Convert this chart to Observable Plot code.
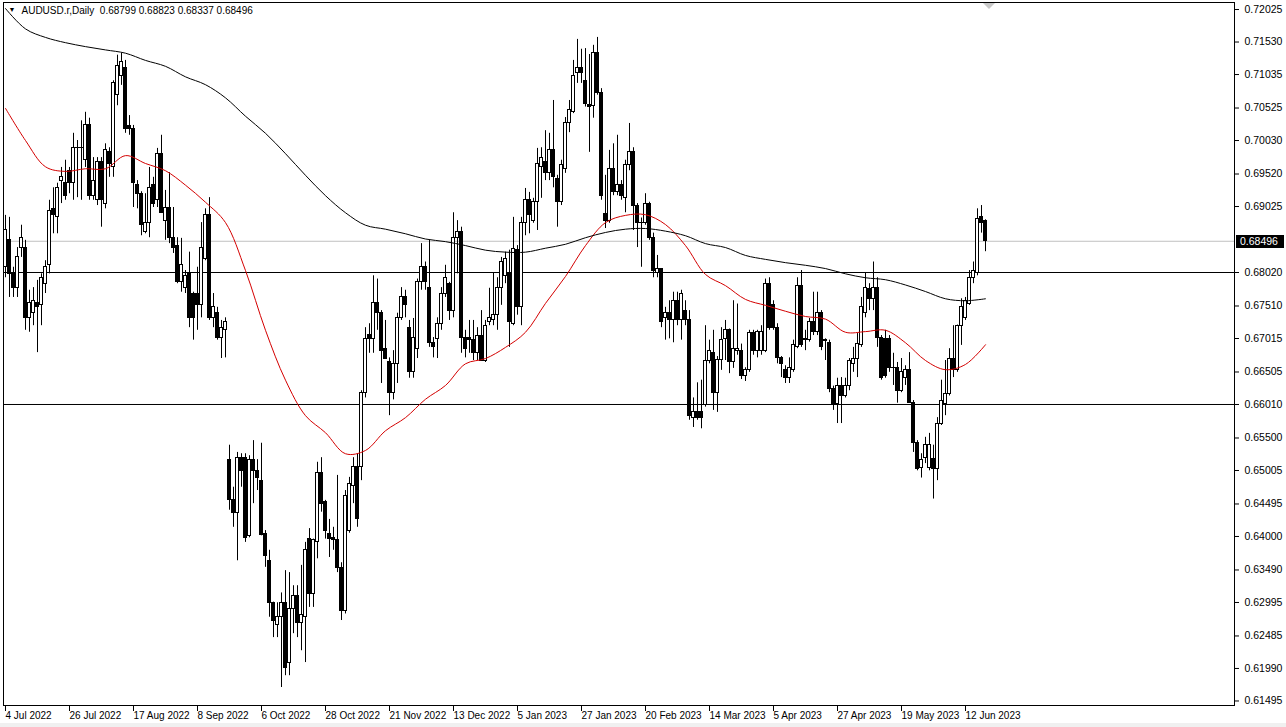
<!DOCTYPE html>
<html><head><meta charset="utf-8">
<script src="https://cdn.jsdelivr.net/npm/d3@7"></script>
<script src="https://cdn.jsdelivr.net/npm/@observablehq/plot@0.6"></script>
<style>
html,body{margin:0;padding:0;background:#fff;overflow:hidden;}
#chart{position:absolute;left:0;top:0;}
svg{font-family:"Liberation Sans",Arial,sans-serif;}
</style></head><body><div id="chart"></div>
<script>
const symbolTitle = "AUDUSD.r,Daily";
const lastOHLC = "0.68799 0.68823 0.68337 0.68496";
const lastPrice = 0.68496;
const levels = [0.6802, 0.6601];

const opens = [.6810,.6851,.6800,.6779,.6839,.6840,.6732,.6740,.6756,.6752,.6785,.6813,.6898,.6886,.6942,.6938,.6957,.6938,.6991,.6992,
.6973,.7026,.6919,.6912,.6970,.6907,.6985,.6962,.7072,.7102,.7113,.7025,.7020,.6935,.6921,.6863,.6877,.6935,.6912,.6983,
.6881,.6901,.6854,.6843,.6787,.6779,.6800,.6770,.6770,.6752,.6823,.6889,.6732,.6740,.6703,.6714,.6516,.6455,.6435,.6520,
.6520,.6401,.6516,.6500,.6485,.6404,.6363,.6299,.6265,.6277,.6299,.6207,.6290,.6310,.6269,.6277,.6396,.6313,.6391,.6496,
.6452,.6404,.6398,.6394,.6352,.6287,.6409,.6477,.6506,.6506,.6619,.6707,.6701,.6756,.6741,.6685,.6666,.6618,.6662,.6733,
.6764,.6718,.6650,.6686,.6787,.6810,.6779,.6695,.6701,.6724,.6770,.6785,.6744,.6854,.6863,.6703,.6703,.6699,.6679,.6706,
.6668,.6726,.6729,.6737,.6779,.6797,.6802,.6724,.6836,.6749,.6877,.6912,.6881,.6909,.6962,.6970,.6954,.6988,.6945,.6909,
.6960,.7030,.7046,.7106,.7114,.7094,.7057,.7056,.7137,.7076,.6891,.6881,.6960,.6924,.6935,.6915,.6965,.6985,.6904,.6878,
.6877,.6907,.6855,.6802,.6807,.6732,.6740,.6729,.6759,.6729,.6744,.6729,.6581,.6589,.6589,.6600,.6668,.6680,.6619,.6669,
.6701,.6714,.6665,.6683,.6683,.6645,.6653,.6710,.6683,.6683,.6683,.6785,.6752,.6718,.6672,.6653,.6641,.6653,.6688,.6782,
.6701,.6699,.6726,.6711,.6741,.6699,.6695,.6625,.6602,.6629,.6614,.6629,.6663,.6671,.6691,.6741,.6777,.6762,.6779,.6703,
.6701,.6701,.6656,.6657,.6622,.6642,.6653,.6604,.6543,.6505,.6520,.6505,.6518,.6503,.6572,.6602,.6617,.6671,.6653,.6721,
.6732,.6754,.6794,.6802,.6886,.68799];
const highs = [.6889,.6886,.6810,.6840,.6874,.6851,.6775,.6779,.6790,.6800,.6820,.6912,.6931,.6938,.6962,.6973,.6962,.7014,.7003,.7033,
.7046,.7037,.6977,.6977,.6977,.6998,.6992,.7094,.7133,.7136,.7125,.7041,.7026,.6942,.6925,.6922,.6962,.6947,.6991,.7011,
.6927,.6954,.6901,.6855,.6854,.6805,.6833,.6772,.6810,.6878,.6899,.6916,.6770,.6749,.6729,.6733,.6539,.6475,.6528,.6526,
.6526,.6523,.6546,.6517,.6542,.6409,.6379,.6300,.6299,.6314,.6348,.6345,.6325,.6325,.6356,.6391,.6412,.6396,.6513,.6520,
.6455,.6426,.6414,.6493,.6360,.6470,.6490,.6520,.6526,.6622,.6718,.6724,.6797,.6792,.6744,.6729,.6672,.6683,.6740,.6779,
.6775,.6729,.6732,.6792,.6846,.6818,.6851,.6703,.6733,.6779,.6813,.6787,.6893,.6881,.6871,.6714,.6729,.6729,.6718,.6744,
.6729,.6778,.6802,.6794,.6825,.6833,.6836,.6886,.6843,.6886,.6930,.6924,.6915,.6991,.6992,.7018,.7014,.7064,.6950,.6973,
.7038,.7064,.7125,.7157,.7142,.7143,.7134,.7148,.7160,.7082,.6950,.6988,.6998,.7011,.6942,.6973,.7029,.6992,.6907,.6885,
.6922,.6909,.6862,.6828,.6808,.6749,.6759,.6772,.6772,.6775,.6759,.6744,.6611,.6634,.6638,.6721,.6699,.6714,.6674,.6718,
.6729,.6716,.6759,.6754,.6693,.6657,.6714,.6714,.6714,.6721,.6792,.6794,.6759,.6724,.6674,.6660,.6672,.6699,.6794,.6805,
.6714,.6732,.6772,.6772,.6744,.6701,.6699,.6629,.6641,.6642,.6641,.6671,.6688,.6709,.6764,.6802,.6785,.6818,.6794,.6706,
.6714,.6706,.6679,.6665,.6671,.6660,.6680,.6607,.6546,.6526,.6551,.6557,.6539,.6581,.6638,.6668,.6686,.6721,.6722,.6762,
.6764,.6805,.6818,.6899,.6904,.68823];
const lows = [.6794,.6764,.6764,.6764,.6825,.6714,.6711,.6721,.6680,.6721,.6770,.6800,.6861,.6861,.6907,.6912,.6922,.6912,.6916,.6912,
.6962,.6912,.6912,.6904,.6871,.6899,.6947,.6947,.7056,.7087,.7014,.7011,.6901,.6899,.6858,.6861,.6855,.6901,.6901,.6892,
.6851,.6846,.6831,.6785,.6772,.6770,.6718,.6699,.6714,.6733,.6820,.6729,.6718,.6699,.6671,.6672,.6440,.6414,.6363,.6475,
.6391,.6398,.6450,.6470,.6401,.6353,.6277,.6246,.6246,.6170,.6188,.6188,.6252,.6246,.6226,.6208,.6292,.6292,.6366,.6437,
.6396,.6368,.6379,.6345,.6272,.6282,.6405,.6450,.6414,.6485,.6611,.6679,.6679,.6714,.6633,.6674,.6584,.6608,.6633,.6729,
.6733,.6641,.6641,.6671,.6775,.6775,.6688,.6672,.6671,.6714,.6764,.6729,.6733,.6800,.6679,.6672,.6679,.6668,.6668,.6668,
.6665,.6721,.6721,.6714,.6752,.6785,.6688,.6721,.6737,.6721,.6858,.6861,.6877,.6866,.6915,.6942,.6942,.6931,.6871,.6904,
.6953,.7015,.7044,.7090,.7090,.7054,.6985,.7037,.7072,.6912,.6869,.6877,.6919,.6919,.6912,.6893,.6957,.6866,.6840,.6810,
.6874,.6851,.6794,.6794,.6718,.6699,.6701,.6695,.6721,.6699,.6721,.6577,.6566,.6577,.6564,.6597,.6663,.6592,.6589,.6653,
.6668,.6648,.6656,.6676,.6639,.6636,.6650,.6676,.6672,.6676,.6680,.6714,.6714,.6663,.6642,.6633,.6633,.6650,.6686,.6688,
.6683,.6696,.6706,.6706,.6683,.6668,.6619,.6592,.6572,.6572,.6611,.6622,.6650,.6642,.6688,.6733,.6744,.6744,.6688,.6638,
.6641,.6650,.6630,.6603,.6619,.6630,.6607,.6528,.6500,.6489,.6511,.6500,.6457,.6485,.6569,.6584,.6614,.6642,.6650,.6691,
.6729,.6752,.6785,.6797,.6862,.68337];
const closes = [.6866,.6800,.6779,.6825,.6855,.6733,.6756,.6759,.6749,.6794,.6810,.6896,.6889,.6931,.6947,.6919,.6938,.6992,.6992,.6991,
.7026,.6919,.6942,.6970,.6912,.6988,.6968,.7090,.7117,.7122,.7021,.7021,.6938,.6922,.6874,.6877,.6930,.6907,.6983,.6893,
.6901,.6854,.6840,.6787,.6813,.6797,.6733,.6733,.6752,.6840,.6889,.6732,.6749,.6703,.6718,.6726,.6455,.6435,.6520,.6500,
.6398,.6516,.6500,.6489,.6403,.6371,.6299,.6272,.6277,.6299,.6199,.6290,.6310,.6269,.6280,.6379,.6313,.6394,.6497,.6450,
.6409,.6396,.6394,.6352,.6287,.6462,.6480,.6506,.6426,.6618,.6701,.6701,.6756,.6740,.6683,.6671,.6618,.6662,.6733,.6764,
.6752,.6650,.6703,.6787,.6810,.6787,.6695,.6688,.6724,.6770,.6794,.6744,.6855,.6863,.6703,.6686,.6699,.6679,.6706,.6668,
.6721,.6732,.6737,.6778,.6818,.6822,.6726,.6838,.6749,.6877,.6912,.6889,.6909,.6968,.6976,.6954,.6988,.6947,.6909,.6965,
.7030,.7049,.7102,.7114,.7106,.7058,.7054,.7137,.7076,.6919,.6881,.6960,.6924,.6935,.6919,.6965,.6985,.6904,.6878,.6877,
.6907,.6855,.6805,.6807,.6726,.6740,.6729,.6759,.6729,.6770,.6729,.6584,.6589,.6581,.6581,.6668,.6683,.6619,.6669,.6699,
.6714,.6665,.6686,.6686,.6645,.6653,.6710,.6683,.6711,.6711,.6785,.6718,.6718,.6672,.6663,.6641,.6656,.6691,.6782,.6691,
.6699,.6726,.6711,.6741,.6688,.6698,.6625,.6602,.6629,.6614,.6629,.6668,.6671,.6693,.6749,.6779,.6762,.6779,.6703,.6642,
.6645,.6656,.6657,.6622,.6650,.6653,.6604,.6543,.6503,.6516,.6539,.6539,.6503,.6572,.6607,.6617,.6671,.6653,.6721,.6749,
.6759,.6794,.6805,.6884,.6877,.68496];

const maBars = [0,5,10,15,20,25,30,35,40,45,50,55,60,65,70,75,80,85,90,95,100,105,110,115,120,125,130,135,140,145,150,155,160,165,170,175,180,185,190,195,200,205,210,215,220,225,230,235,240,245];
const ma50 = [.7052,.7003,.6963,.6956,.6960,.6960,.6980,.6968,.6957,.6935,.6909,.6878,.6805,.6714,.6638,.6584,.6558,.6526,.6531,.6561,
.6581,.6609,.6630,.6663,.6671,.6688,.6711,.6755,.6796,.6843,.6878,.6889,.6890,.6875,.6843,.6799,.6782,.6761,.6752,.6743,
.6735,.6731,.6711,.6712,.6714,.6695,.6668,.6654,.6662,.6692];
const ma200 = [.7204,.7173,.7160,.7152,.7146,.7141,.7136,.7125,.7116,.7100,.7088,.7068,.7040,.7014,.6983,.6950,.6919,.6893,.6874,.6868,
.6861,.6853,.6849,.6843,.6836,.6833,.6833,.6839,.6845,.6855,.6863,.6868,.6869,.6865,.6858,.6846,.6840,.6828,.6822,.6817,
.6813,.6808,.6800,.6794,.6791,.6783,.6773,.6762,.6759,.6762];

const dateLabels = ["4 Jul 2022","26 Jul 2022","17 Aug 2022","8 Sep 2022","6 Oct 2022","28 Oct 2022","21 Nov 2022","13 Dec 2022","5 Jan 2023","27 Jan 2023","20 Feb 2023","14 Mar 2023","5 Apr 2023","27 Apr 2023","19 May 2023","12 Jun 2023"];
const dateLabelBars = [0,16,32,48,64,80,96,112,128,144,160,176,192,208,224,240];
const priceTicks = [0.72025,0.71530,0.71035,0.70525,0.70030,0.69520,0.69025,0.68020,0.67510,0.67015,0.66505,0.66010,0.65500,0.65005,0.64495,0.64000,0.63490,0.62995,0.62485,0.61990,0.61495];

const candles = opens.map((o, i) => ({i, o, h: highs[i], l: lows[i], c: closes[i], up: closes[i] >= o}));
const ma = maBars.map((b, k) => ({b, fast: ma50[k], slow: ma200[k]}));
const FONT = 11;
const SMALL = 10;

const plot = Plot.plot({
  width: 1286, height: 727,
  marginLeft: 3, marginRight: 52, marginTop: 2, marginBottom: 22,
  x: {type: "linear", domain: [-0.5, 307.25], axis: null},
  y: {type: "linear", domain: [0.61426, 0.72132], axis: null},
  marks: [
    Plot.ruleY([lastPrice], {stroke: "#c0c0c0"}),
    Plot.ruleY(levels, {stroke: "#000"}),
    Plot.ruleX(candles, {x: "i", y1: "l", y2: "h", stroke: "#000"}),
    Plot.rect(candles.filter(d => d.up), {x1: d => d.i - 0.375, x2: d => d.i + 0.375, y1: "o", y2: "c", fill: "#fff", stroke: "#000", shapeRendering: "crispEdges"}),
    Plot.rect(candles.filter(d => !d.up), {x1: d => d.i - 0.375, x2: d => d.i + 0.375, y1: "o", y2: "c", fill: "#000", stroke: "#000", shapeRendering: "crispEdges"}),
    Plot.line(ma, {x: "b", y: "fast", stroke: "#d40000", strokeWidth: 1, curve: "catmull-rom"}),
    Plot.line(ma, {x: "b", y: "slow", stroke: "#000", strokeWidth: 1, curve: "catmull-rom"}),
    Plot.frame({stroke: "#000"}),
    Plot.axisY(priceTicks, {anchor: "right", tickSize: 4, tickPadding: 6, tickFormat: d => d.toFixed(5), fontSize: SMALL + 0.5}),
    Plot.axisX(dateLabelBars, {anchor: "bottom", tickSize: 6, tickPadding: 0, tickFormat: (d, i) => dateLabels[i], textAnchor: "start", dx: 0, fontSize: SMALL}),
    Plot.text([symbolTitle + "  " + lastOHLC], {frameAnchor: "top-left", dx: 18, dy: 4, textAnchor: "start", lineAnchor: "top", fontSize: SMALL, fill: "#000"}),
    Plot.text(["▼"], {frameAnchor: "top-left", dx: 5, dy: 5, textAnchor: "start", lineAnchor: "top", fontSize: 7, fill: "#000"})
  ]
});

document.getElementById("chart").appendChild(plot);

// current price label box on the price axis
const svg = d3.select(plot);
const yy = Math.round(plot.scale("y").apply(lastPrice));
const g = svg.append("g");
g.append("rect").attr("x", 1236).attr("y", yy - 6).attr("width", 48).attr("height", 13).attr("fill", "#000");
g.append("text").attr("x", 1240).attr("y", yy + 4).attr("text-anchor", "start").attr("fill", "#fff").attr("font-size", SMALL + 0.5).text(lastPrice.toFixed(5));
// chart shift marker
g.append("path").attr("d", "M983,3 L995,3 L989,9 Z").attr("fill", "#c8c8c8");
// bottom window strip
g.append("rect").attr("x", 0).attr("y", 723).attr("width", 1286).attr("height", 4).attr("fill", "#f0f0f0");
</script></body></html>
